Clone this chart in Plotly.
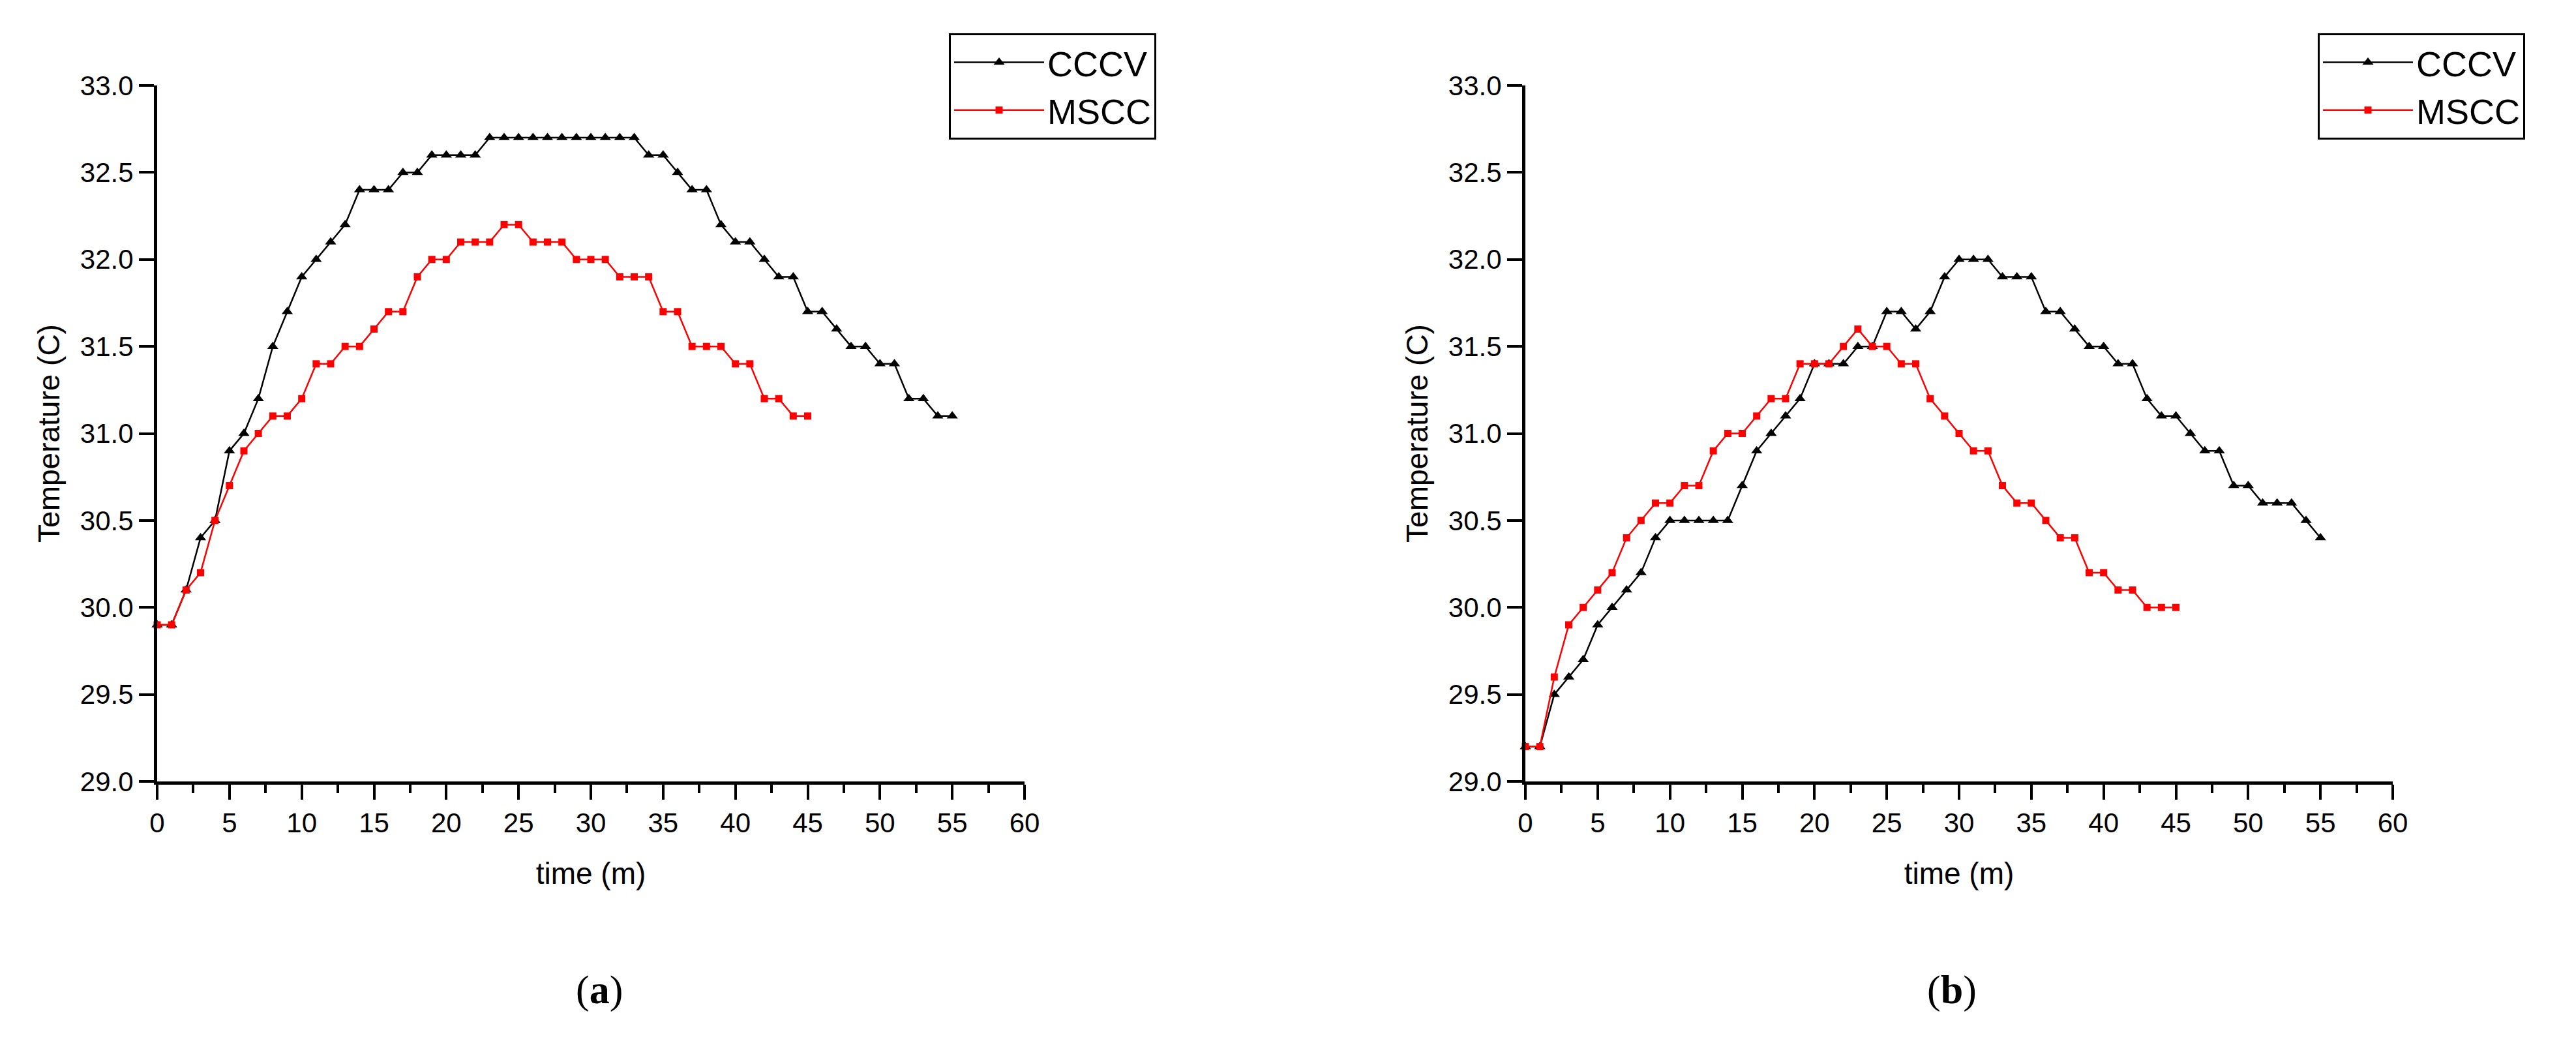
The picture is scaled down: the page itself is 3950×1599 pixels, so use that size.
import plotly.graph_objects as go

# ---------------- data ----------------
time_cccv = list(range(0, 56))
time_mscc = list(range(0, 46))

cccv_a = [29.9, 29.9, 30.1, 30.4, 30.5, 30.9, 31.0, 31.2, 31.5, 31.7,
          31.9, 32.0, 32.1, 32.2, 32.4, 32.4, 32.4, 32.5, 32.5, 32.6,
          32.6, 32.6, 32.6, 32.7, 32.7, 32.7, 32.7, 32.7, 32.7, 32.7,
          32.7, 32.7, 32.7, 32.7, 32.6, 32.6, 32.5, 32.4, 32.4, 32.2,
          32.1, 32.1, 32.0, 31.9, 31.9, 31.7, 31.7, 31.6, 31.5, 31.5,
          31.4, 31.4, 31.2, 31.2, 31.1, 31.1]
mscc_a = [29.9, 29.9, 30.1, 30.2, 30.5, 30.7, 30.9, 31.0, 31.1, 31.1,
          31.2, 31.4, 31.4, 31.5, 31.5, 31.6, 31.7, 31.7, 31.9, 32.0,
          32.0, 32.1, 32.1, 32.1, 32.2, 32.2, 32.1, 32.1, 32.1, 32.0,
          32.0, 32.0, 31.9, 31.9, 31.9, 31.7, 31.7, 31.5, 31.5, 31.5,
          31.4, 31.4, 31.2, 31.2, 31.1, 31.1]

cccv_b = [29.2, 29.2, 29.5, 29.6, 29.7, 29.9, 30.0, 30.1, 30.2, 30.4,
          30.5, 30.5, 30.5, 30.5, 30.5, 30.7, 30.9, 31.0, 31.1, 31.2,
          31.4, 31.4, 31.4, 31.5, 31.5, 31.7, 31.7, 31.6, 31.7, 31.9,
          32.0, 32.0, 32.0, 31.9, 31.9, 31.9, 31.7, 31.7, 31.6, 31.5,
          31.5, 31.4, 31.4, 31.2, 31.1, 31.1, 31.0, 30.9, 30.9, 30.7,
          30.7, 30.6, 30.6, 30.6, 30.5, 30.4]
mscc_b = [29.2, 29.2, 29.6, 29.9, 30.0, 30.1, 30.2, 30.4, 30.5, 30.6,
          30.6, 30.7, 30.7, 30.9, 31.0, 31.0, 31.1, 31.2, 31.2, 31.4,
          31.4, 31.4, 31.5, 31.6, 31.5, 31.5, 31.4, 31.4, 31.2, 31.1,
          31.0, 30.9, 30.9, 30.7, 30.6, 30.6, 30.5, 30.4, 30.4, 30.2,
          30.2, 30.1, 30.1, 30.0, 30.0, 30.0]

x_ticks = list(range(0, 61, 5))
y_ticks = [29.0, 29.5, 30.0, 30.5, 31.0, 31.5, 32.0, 32.5, 33.0]
x_title = "time (m)"
y_title = "Temperature (C)"
panel_labels = ["(<b>a</b>)", "(<b>b</b>)"]

# ---------------- figure ----------------
W, H = 3950, 1599
FONT = "Liberation Sans, Arial, sans-serif"
SERIF = "Liberation Serif, Times New Roman, serif"

fig = go.Figure()

def add_pair(xa, ya, cccv, mscc, legend):
    fig.add_trace(go.Scatter(
        x=time_cccv, y=cccv, name="CCCV", mode="lines+markers",
        line=dict(color="black", width=2.5),
        marker=dict(symbol="triangle-up", size=15, color="black"),
        xaxis=xa, yaxis=ya, legend=legend, cliponaxis=False))
    fig.add_trace(go.Scatter(
        x=time_mscc, y=mscc, name="MSCC", mode="lines+markers",
        line=dict(color="#ff0000", width=2.5),
        marker=dict(symbol="square", size=11, color="#ff0000"),
        xaxis=xa, yaxis=ya, legend=legend, cliponaxis=False))

add_pair("x", "y", cccv_a, mscc_a, "legend")
add_pair("x2", "y2", cccv_b, mscc_b, "legend2")

ydom = [(H - 1198) / H, (H - 131) / H]
xdoms = [[241 / W, 1571 / W], [2339 / W, 3669 / W]]

def xaxis_cfg(dom, anchor):
    return dict(
        domain=dom, anchor=anchor, range=[0, 60],
        tickmode="array", tickvals=x_ticks, ticktext=[str(v) for v in x_ticks],
        ticks="outside", ticklen=23, tickwidth=4, tickcolor="black",
        minor=dict(ticks="outside", ticklen=13, tickwidth=4, tickcolor="black",
                   dtick=2.5, tick0=0, showgrid=False),
        showline=True, linewidth=5, linecolor="black",
        showgrid=False, zeroline=False,
        tickfont=dict(family=FONT, size=42, color="black"),
        title=dict(text=x_title, font=dict(family=FONT, size=46, color="black"),
                   standoff=40),
    )

def yaxis_cfg(anchor):
    return dict(
        domain=ydom, anchor=anchor, range=[29, 33],
        tickmode="array", tickvals=y_ticks, ticktext=[f"{v:.1f}" for v in y_ticks],
        ticks="outside", ticklen=23, tickwidth=4, tickcolor="black",
        showline=True, linewidth=5, linecolor="black",
        showgrid=False, zeroline=False,
        tickfont=dict(family=FONT, size=42, color="black"),
        title=dict(text=y_title, font=dict(family=FONT, size=46, color="black"),
                   standoff=18),
    )

legend_common = dict(
    xanchor="left", yanchor="top",
    bgcolor="white", bordercolor="black", borderwidth=3,
    font=dict(family=FONT, size=54, color="black"),
    itemwidth=138, tracegroupgap=0,
)

fig.update_layout(
    width=W, height=H,
    margin=dict(l=0, r=0, t=0, b=0, autoexpand=False),
    paper_bgcolor="white", plot_bgcolor="white",
    showlegend=True,
    xaxis=xaxis_cfg(xdoms[0], "y"),
    yaxis=yaxis_cfg("x"),
    xaxis2=xaxis_cfg(xdoms[1], "y2"),
    yaxis2=yaxis_cfg("x2"),
    legend=dict(x=1455 / W, y=(H - 51) / H, **legend_common),
    legend2=dict(x=3554 / W, y=(H - 51) / H, **legend_common),
    annotations=[
        dict(text=panel_labels[0], x=919 / W, y=(H - 1517) / H,
             xref="paper", yref="paper", xanchor="center", yanchor="middle",
             showarrow=False, font=dict(family=SERIF, size=62, color="black")),
        dict(text=panel_labels[1], x=2993 / W, y=(H - 1517) / H,
             xref="paper", yref="paper", xanchor="center", yanchor="middle",
             showarrow=False, font=dict(family=SERIF, size=62, color="black")),
    ],
)

fig.write_html("out.html", config={"displayModeBar": False},
               post_script="document.body.style.margin='0';")
